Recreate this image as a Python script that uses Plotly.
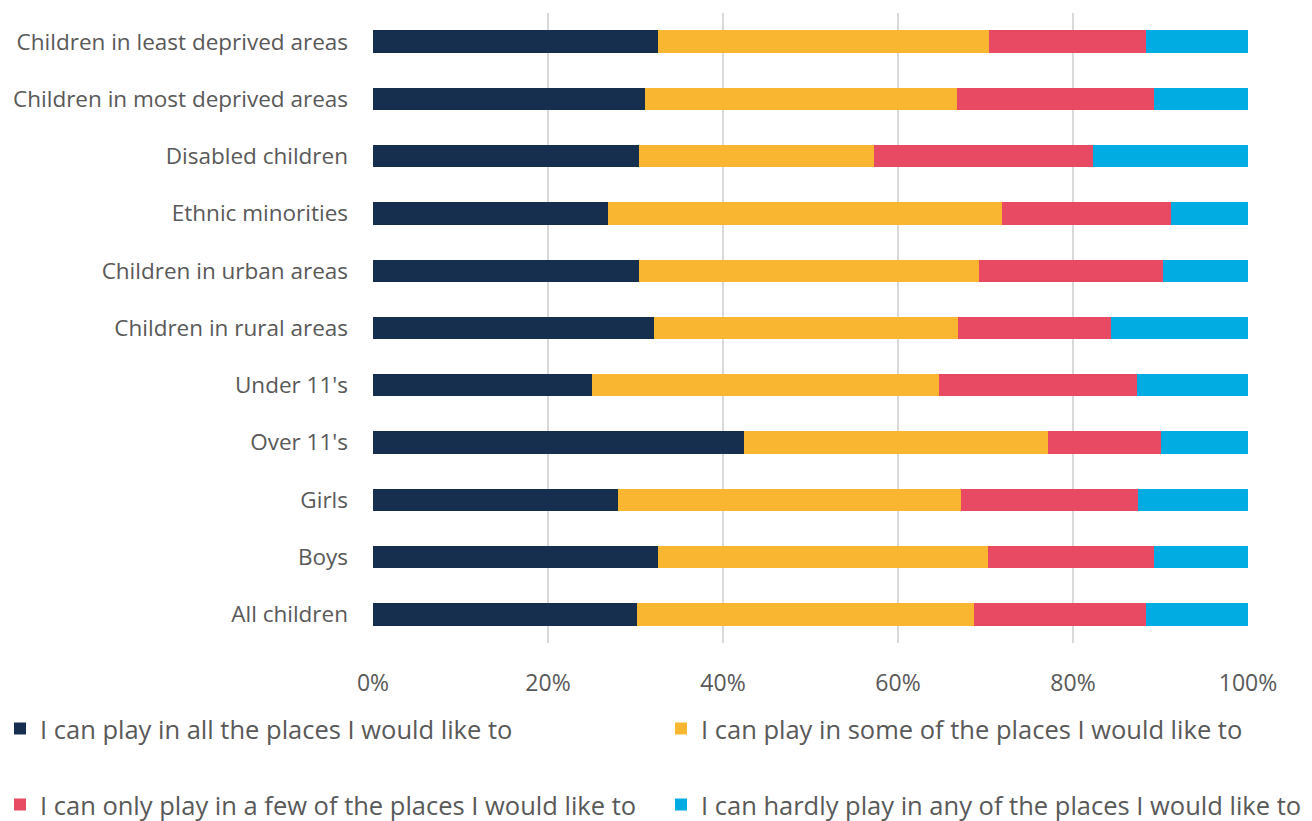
import plotly.graph_objects as go

categories = [
    "Children in least deprived areas",
    "Children in most deprived areas",
    "Disabled children",
    "Ethnic minorities",
    "Children in urban areas",
    "Children in rural areas",
    "Under 11's",
    "Over 11's",
    "Girls",
    "Boys",
    "All children",
]

all_places = [32.6, 31.1, 30.4, 26.9, 30.4, 32.1, 25.0, 42.4, 28.0, 32.6, 30.2]
some_places = [37.8, 35.6, 26.8, 45.0, 38.9, 34.8, 39.7, 34.7, 39.2, 37.7, 38.5]
few_places = [17.9, 22.5, 25.1, 19.3, 21.0, 17.4, 22.6, 13.0, 20.2, 19.0, 19.6]
hardly_any = [11.7, 10.8, 17.7, 8.8, 9.7, 15.7, 12.7, 9.9, 12.6, 10.7, 11.7]

series_names = [
    "I can play in all the places I would like to",
    "I can play in some of the places I would like to",
    "I can only play in a few of the places I would like to",
    "I can hardly play in any of the places I would like to",
]

tick_vals = [0, 20, 40, 60, 80, 100]
tick_text = ["0%", "20%", "40%", "60%", "80%", "100%"]

colors = ["#172F4F", "#F9B731", "#E94A63", "#00ACE2"]

# one legend box per entry, laid out as a 2 x 2 grid under the axis
legend_ids = ["legend", "legend2", "legend3", "legend4"]
legend_pos = [(-2, 729), (661, 729), (-2, 805), (661, 805)]

FONT = "'Open Sans', Lato, sans-serif"
TEXT_COLOR = "#595959"
W, H = 1312, 821

fig = go.Figure()
for name, vals, col, lg in zip(series_names,
                               [all_places, some_places, few_places, hardly_any],
                               colors, legend_ids):
    fig.add_trace(go.Bar(
        y=categories,
        x=vals,
        name=name,
        orientation="h",
        marker=dict(color=col, line=dict(width=0)),
        width=0.39,
        legend=lg,
    ))

legend_layout = {}
for lg, (px, py) in zip(legend_ids, legend_pos):
    legend_layout[lg] = dict(
        orientation="h",
        xref="container",
        yref="container",
        xanchor="left",
        yanchor="middle",
        x=px / W,
        y=1 - py / H,
        font=dict(family=FONT, size=25.5, color=TEXT_COLOR),
        bgcolor="rgba(0,0,0,0)",
        visible=True,
    )

fig.update_layout(
    barmode="stack",
    showlegend=True,
    width=W,
    height=H,
    margin=dict(l=373, r=64, t=13, b=178, autoexpand=False),
    paper_bgcolor="white",
    plot_bgcolor="white",
    font=dict(family=FONT, size=23, color=TEXT_COLOR),
    xaxis=dict(
        range=[0, 100],
        tickvals=tick_vals,
        ticktext=tick_text,
        showgrid=True,
        gridcolor="#D9D9D9",
        gridwidth=1.5,
        zeroline=False,
        showline=False,
        ticks="",
        ticklabelstandoff=24,
        tickfont=dict(family=FONT, size=23, color=TEXT_COLOR),
        automargin=False,
        fixedrange=True,
    ),
    yaxis=dict(
        categoryorder="array",
        categoryarray=categories[::-1],
        showgrid=False,
        zeroline=False,
        showline=False,
        ticks="",
        ticklabelstandoff=24,
        tickfont=dict(family=FONT, size=22.5, color=TEXT_COLOR),
        automargin=False,
        fixedrange=True,
    ),
    **legend_layout,
)

fig.write_html("out.html")
